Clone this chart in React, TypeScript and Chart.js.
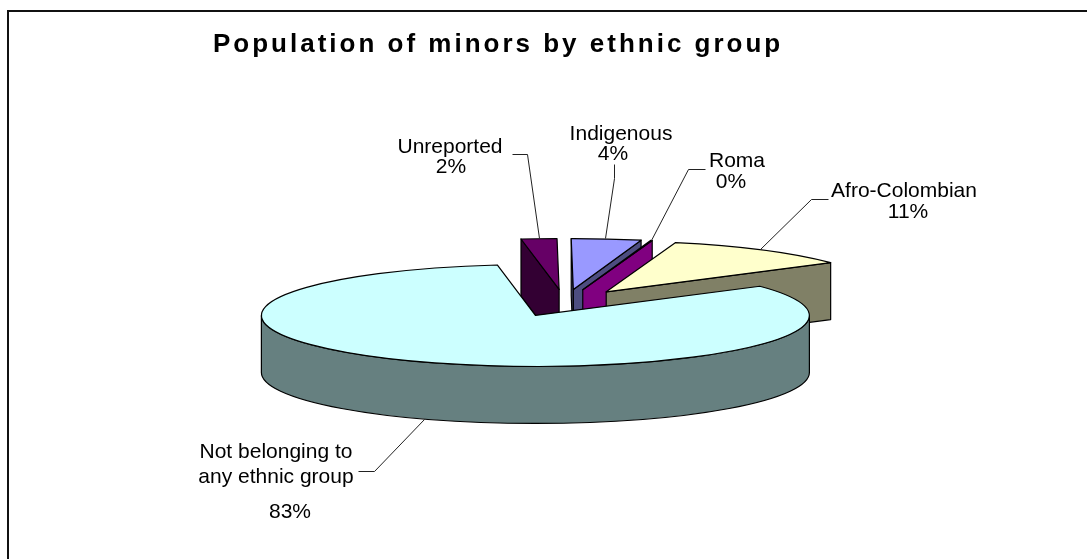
import React, { useEffect, useRef } from "react";
import { Chart, registerables } from "chart.js";

Chart.register(...registerables);

const TITLE = "Population of minors by ethnic group";
const categories = ["Not belonging to any ethnic group", "Unreported", "Indigenous", "Roma", "Afro-Colombian"];
const values = [82.5, 2.1, 4.1, 0.1, 11.2];
const percentLabels = ["83%", "2%", "4%", "0%", "11%"];
const topColors = ["#CCFFFF", "#660066", "#9999FF", "#FF00FF", "#FFFFCC"];
const faceColors = ["#668080", "#330033", "#4D4D80", "#800080", "#808066"];

// Painter's order: back slices first, the large front slice last.
const paintOrder = [1, 2, 3, 4, 0];

const W = 1087;
const H = 559;
const TILT = 0.186;
const DEPTH = 57;
const FONT = '21px "Liberation Sans", Arial, sans-serif';

type Callout = { lines: [string, number, number][]; leader: [number, number][] };
const callouts: Callout[] = [
  {
    lines: [["Not belonging to", 276, 458], ["any ethnic group", 276, 483], [percentLabels[0], 290, 518]],
    leader: [[358, 471], [374, 471], [424, 419]],
  },
  {
    lines: [[categories[1], 450, 153], [percentLabels[1], 451, 173]],
    leader: [[512, 154], [527, 154], [539, 238]],
  },
  {
    lines: [[categories[2], 621, 140], [percentLabels[2], 613, 160]],
    leader: [[614, 164], [614, 178], [605, 238]],
  },
  {
    lines: [[categories[3], 737, 167], [percentLabels[3], 731, 188]],
    leader: [[705, 169], [688, 169], [651, 240]],
  },
  {
    lines: [[categories[4], 904, 197], [percentLabels[4], 908, 218]],
    leader: [[828, 199], [811, 199], [760, 249]],
  },
];

const pie3d = {
  id: "pie3d",
  beforeDraw(chart: any) {
    const ctx = chart.ctx;
    ctx.save();
    ctx.fillStyle = "#fff";
    ctx.fillRect(0, 0, W, H);
    ctx.strokeStyle = "#111";
    ctx.lineWidth = 2;
    ctx.beginPath();
    ctx.moveTo(8, H);
    ctx.lineTo(8, 11);
    ctx.lineTo(W, 11);
    ctx.stroke();
    ctx.restore();
  },
  beforeDatasetDraw() {
    return false;
  },
  afterDatasetsDraw(chart: any) {
    const ctx = chart.ctx;
    const meta = chart.getDatasetMeta(0);
    ctx.save();
    ctx.lineJoin = "round";
    ctx.strokeStyle = "#000";
    ctx.lineWidth = 1.2;
    for (const i of paintOrder) {
      const arc = meta.data[i];
      const { x, y, startAngle: a, endAngle: b, outerRadius: R } = arc.getProps(
        ["x", "y", "startAngle", "endAngle", "outerRadius"],
        true
      );
      const mid = (a + b) / 2;
      const off = arc.options.offset / 4; // same reduction ArcElement applies
      const ax = x + Math.cos(mid) * off;
      const ay = y + Math.sin(mid) * off * TILT;
      const rim = (t: number, d = 0): [number, number] => [
        ax + Math.cos(t) * R,
        ay + Math.sin(t) * R * TILT + d,
      ];
      const paint = (fill: string) => {
        ctx.fillStyle = fill;
        ctx.fill();
        ctx.stroke();
      };
      const face = (t: number) => {
        const p = rim(t);
        ctx.beginPath();
        ctx.moveTo(ax, ay);
        ctx.lineTo(p[0], p[1]);
        ctx.lineTo(p[0], p[1] + DEPTH);
        ctx.lineTo(ax, ay + DEPTH);
        ctx.closePath();
        paint(faceColors[i]);
      };
      if (Math.cos(a) < 0) face(a);
      if (Math.cos(b) > 0) face(b);
      const wallFrom = Math.max(a, 0);
      const wallTo = Math.min(b, Math.PI);
      if (wallTo > wallFrom) {
        ctx.beginPath();
        ctx.ellipse(ax, ay, R, R * TILT, 0, wallFrom, wallTo);
        ctx.ellipse(ax, ay + DEPTH, R, R * TILT, 0, wallTo, wallFrom, true);
        ctx.closePath();
        paint(faceColors[i]);
      }
      ctx.beginPath();
      ctx.moveTo(ax, ay);
      ctx.ellipse(ax, ay, R, R * TILT, 0, a, b);
      ctx.closePath();
      paint(topColors[i]);
    }
    ctx.restore();

    ctx.save();
    ctx.strokeStyle = "#222";
    ctx.lineWidth = 1;
    for (const c of callouts) {
      ctx.beginPath();
      c.leader.forEach(([lx, ly], k) => (k ? ctx.lineTo(lx + 0.5, ly + 0.5) : ctx.moveTo(lx + 0.5, ly + 0.5)));
      ctx.stroke();
    }
    ctx.fillStyle = "#000";
    ctx.textAlign = "center";
    ctx.textBaseline = "alphabetic";
    ctx.font = FONT;
    for (const c of callouts) for (const [t, tx, ty] of c.lines) ctx.fillText(t, tx, ty);
    ctx.textAlign = "left";
    ctx.font = 'bold 26px "Liberation Sans", Arial, sans-serif';
    (ctx as any).letterSpacing = "3px";
    ctx.fillText(TITLE, 213, 52);
    ctx.restore();
  },
};

export default function App() {
  const ref = useRef<HTMLCanvasElement>(null);
  useEffect(() => {
    const chart = new Chart(ref.current!, {
      type: "pie",
      data: {
        labels: categories,
        datasets: [
          {
            data: values,
            backgroundColor: topColors,
            offset: 292,
            borderWidth: 0,
            clip: false,
          } as any,
        ],
      },
      options: {
        animation: false,
        responsive: false,
        rotation: 55,
        radius: 274,
        layout: { padding: { left: 42, top: 47 } },
        plugins: { legend: { display: false }, tooltip: { enabled: false }, title: { display: false } },
      } as any,
      plugins: [pie3d as any],
    });
    return () => chart.destroy();
  }, []);
  return (
    <div style={{ position: "absolute", left: 0, top: 0, width: W, height: H, background: "#fff" }}>
      <canvas ref={ref} width={W} height={H} style={{ display: "block" }} />
    </div>
  );
}
